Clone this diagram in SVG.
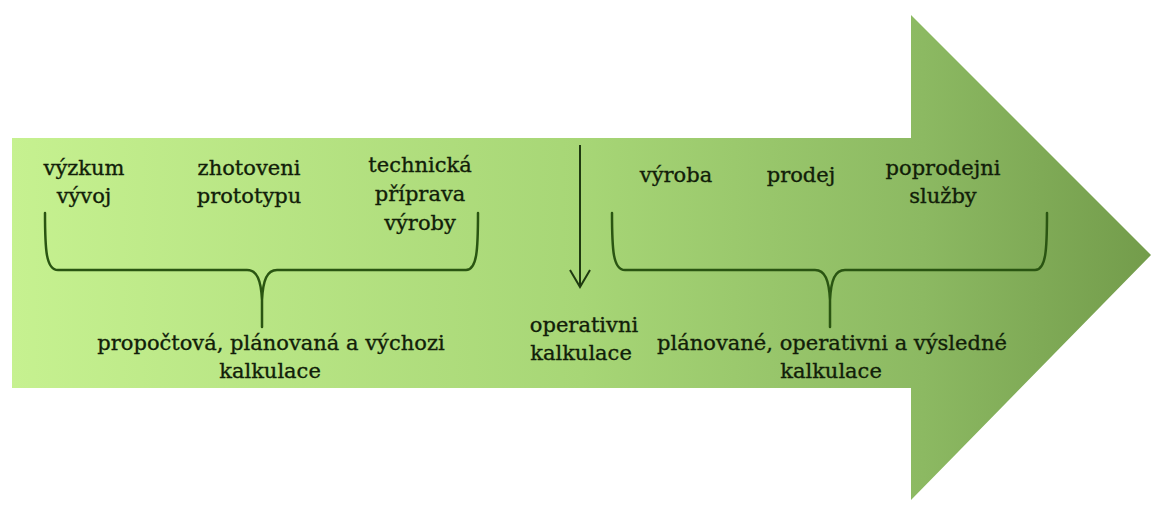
<svg xmlns="http://www.w3.org/2000/svg" width="1151" height="507" viewBox="0 0 1151 507">
<defs>
<linearGradient id="g" x1="12" y1="0" x2="1151" y2="0" gradientUnits="userSpaceOnUse">
<stop offset="0" stop-color="#c6f190"/>
<stop offset="0.5" stop-color="#a7d676"/>
<stop offset="0.8" stop-color="#8cb962"/>
<stop offset="1" stop-color="#739c4b"/>
</linearGradient>
<marker id="open" viewBox="0 0 20 24" refX="18" refY="12" markerWidth="20" markerHeight="24" markerUnits="userSpaceOnUse" orient="auto">
<path d="M1,2 L18,12 L1,22" fill="none" stroke="#1f3a10" stroke-width="2"/>
</marker>
<style>
.t text{font-size:21px;fill:#121e09;stroke:#121e09;stroke-width:0.35;text-anchor:middle}
.br{fill:none;stroke:#2a5512;stroke-width:2.5;stroke-linecap:round;stroke-linejoin:round}
</style>
</defs>
<g id="bigarrow">
<path d="M12,138 L911,138 L911,15 L1151,255 L911,500 L911,388 L12,388 Z" fill="url(#g)"/>
</g>
<g id="connectors">
<path class="br" d="M45,213 C45,250 46,270 58,270 L247,270 C257,270 261,280 262,300 L262,327 M478,213 C478,250 477,270 466,270 L277,270 C267,270 263,280 262,300"/>
<path class="br" d="M612,213 C612,250 613,270 625,270 L815,270 C825,270 829,280 830,300 L830,327 M1047,213 C1047,250 1046,270 1035,270 L845,270 C835,270 831,280 830,300"/>
<line x1="580" y1="145" x2="580" y2="287" stroke="#1f3a10" stroke-width="2" marker-end="url(#open)"/>
</g>
<g class="t" font-family="'DejaVu Serif', 'Liberation Serif', serif">
<g id="n-vyzkum"><text x="84" y="175">výzkum</text><text x="84" y="203">vývoj</text></g>
<g id="n-prototyp"><text x="249" y="175">zhotoveni</text><text x="249" y="203">prototypu</text></g>
<g id="n-technicka"><text x="420" y="172">technická</text><text x="420" y="201">příprava</text><text x="420" y="230">výroby</text></g>
<g id="n-vyroba"><text x="676" y="182">výroba</text></g>
<g id="n-prodej"><text x="801" y="182">prodej</text></g>
<g id="n-poprodejni"><text x="943" y="175">poprodejni</text><text x="943" y="203">služby</text></g>
<g id="n-propoctova"><text x="271" y="350">propočtová, plánovaná a výchozi</text><text x="270" y="378">kalkulace</text></g>
<g id="n-operativni"><text x="584" y="332">operativni</text><text x="581" y="360">kalkulace</text></g>
<g id="n-planovane"><text x="832" y="350">plánované, operativni a výsledné</text><text x="831" y="378">kalkulace</text></g>
</g>
</svg>
